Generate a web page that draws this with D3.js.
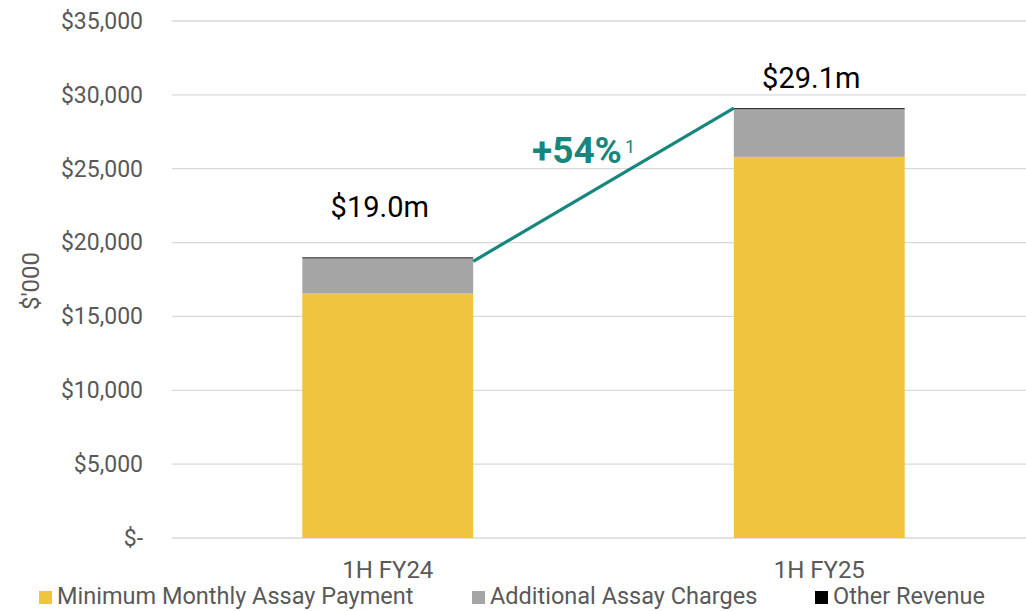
<!DOCTYPE html>
<html><head><meta charset="utf-8">
<script src="https://cdn.jsdelivr.net/npm/d3@7"></script>
<style>body{margin:0;background:#fff}svg{display:block}text{font-family:Roboto,sans-serif}</style>
</head><body>
<svg id="c" width="1026" height="611"></svg>
<script>
const categories = ["1H FY24", "1H FY25"];
const seriesNames = ["Minimum Monthly Assay Payment", "Additional Assay Charges", "Other Revenue"];
const minimumMonthly = [16550, 25800];
const additionalCharges = [2380, 3230];
const otherRevenue = [70, 70];
const totalLabels = ["$19.0m", "$29.1m"];
const growthLabel = "+54%";
const yTicks = [0, 5000, 10000, 15000, 20000, 25000, 30000, 35000];
const colors = ["#F0C43E", "#A5A5A5", "#111111"];

const svg = d3.select("#c");
const y = d3.scaleLinear().domain([0, 35000]).range([538, 21]);
const x = d3.scaleBand().domain(categories).range([172, 1035]).paddingInner(0.604).paddingOuter(0.302);

const fmt = v => v === 0 ? "$-" : "$" + d3.format(",")(v);
const gAxis = svg.append("g").attr("transform", "translate(172,0)")
  .call(d3.axisLeft(y).tickValues(yTicks).tickFormat(fmt).tickSize(0).tickPadding(29));
gAxis.select(".domain").remove();
gAxis.selectAll("text").attr("fill", "#595959").style("font-size", "23px").style("font-family", "Roboto");
svg.append("g").selectAll("line").data(yTicks).join("line")
  .attr("x1", 172).attr("x2", 1026).attr("y1", d => y(d)).attr("y2", d => y(d))
  .attr("stroke", "#d9d9d9").attr("stroke-width", 1.3);

const rows = categories.map((c, i) => ({cat: c, s0: minimumMonthly[i], s1: additionalCharges[i], s2: otherRevenue[i]}));
const stack = d3.stack().keys(["s0", "s1", "s2"])(rows);
svg.append("g").selectAll("g").data(stack).join("g").attr("fill", (d, i) => colors[i])
  .selectAll("rect").data(d => d).join("rect")
  .attr("x", d => x(d.data.cat)).attr("width", x.bandwidth())
  .attr("y", d => y(d[1])).attr("height", d => Math.max(y(d[0]) - y(d[1]), 1));

const totals = rows.map(r => r.s0 + r.s1 + r.s2);
svg.append("line")
  .attr("x1", x(categories[0]) + x.bandwidth()).attr("y1", y(totals[0]) + 4)
  .attr("x2", x(categories[1])).attr("y2", y(totals[1]))
  .attr("stroke", "#17877D").attr("stroke-width", 3.2);

svg.append("g").selectAll("text").data(totalLabels).join("text")
  .attr("x", (d, i) => x(categories[i]) + x.bandwidth() / 2 - 8)
  .attr("y", (d, i) => i === 0 ? 217 : 88)
  .attr("text-anchor", "middle").attr("fill", "#000").style("font-size", "29px").text(d => d);

const gl = svg.append("text").attr("x", 532).attr("y", 163).attr("fill", "#17877D");
gl.append("tspan").style("font-size", "37px").style("font-weight", "bold").text(growthLabel);
gl.append("tspan").attr("dx", 3).attr("dy", -10).style("font-size", "18px").text("1");

svg.append("g").selectAll("text").data(categories).join("text")
  .attr("x", d => x(d) + x.bandwidth() / 2).attr("y", 578)
  .attr("text-anchor", "middle").attr("fill", "#595959").style("font-size", "24px").text(d => d);

svg.append("text").attr("transform", "translate(39,281) rotate(-90)")
  .attr("text-anchor", "middle").attr("fill", "#595959").style("font-size", "24px").text("$'000");

const legX = [39, 472, 815];
const lg = svg.append("g").selectAll("g").data(seriesNames).join("g")
  .attr("transform", (d, i) => `translate(${legX[i]},0)`);
lg.append("rect").attr("x", 0).attr("y", 591).attr("width", 13).attr("height", 13).attr("fill", (d, i) => i === 2 ? "#000" : colors[i]);
lg.append("text").attr("x", 18).attr("y", 604).attr("fill", "#595959").style("font-size", "23.5px").text(d => d);
</script>
</body></html>
